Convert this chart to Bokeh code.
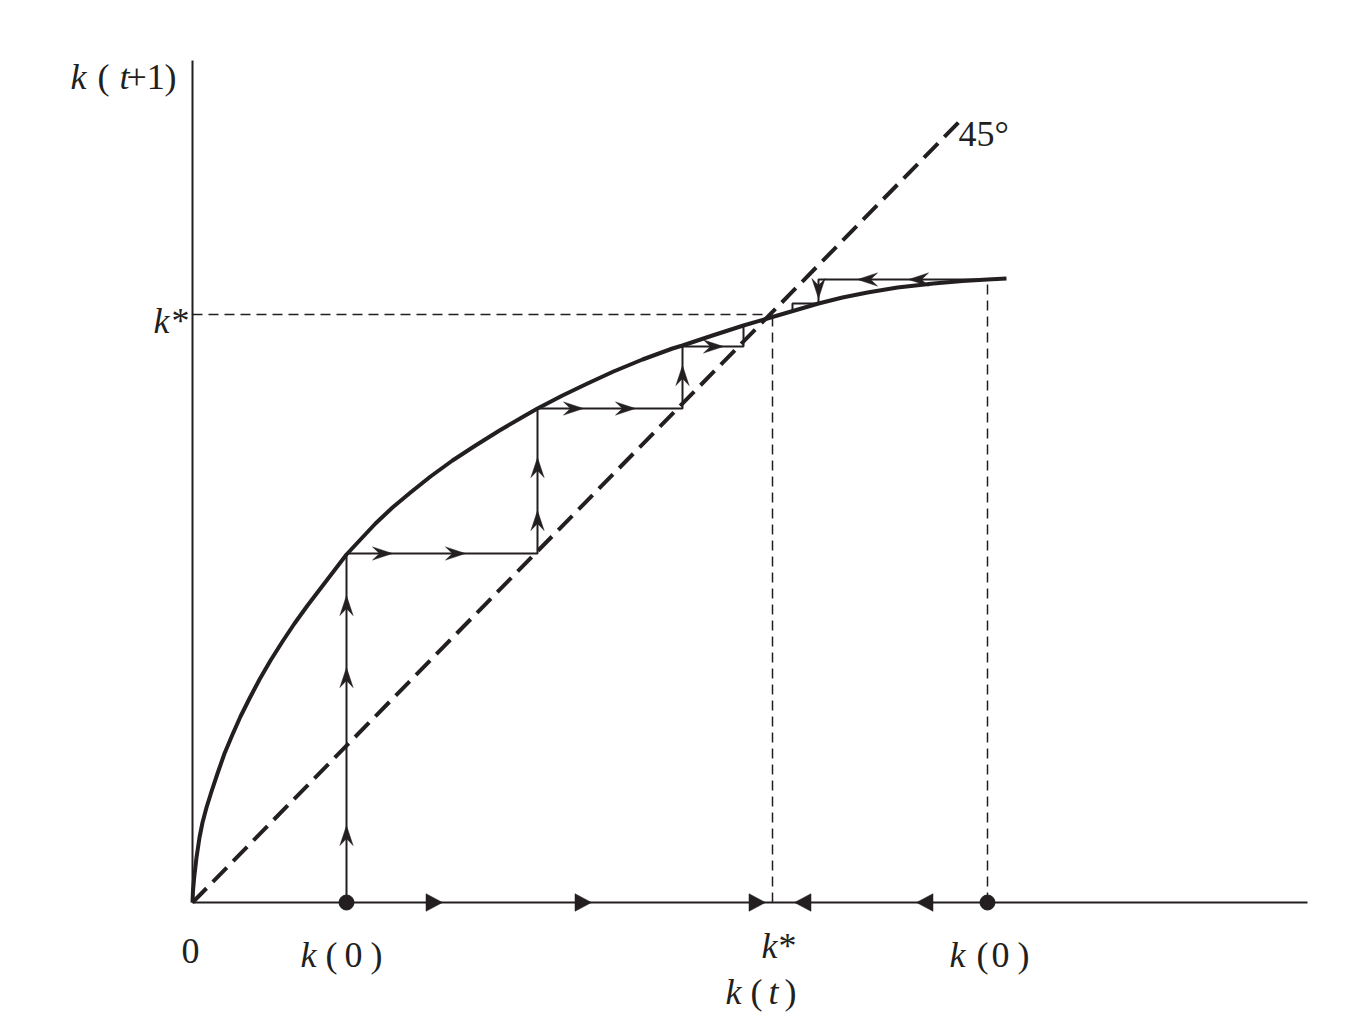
from bokeh.plotting import figure
from bokeh.models import Range1d
from bokeh.embed import file_html
from bokeh.resources import INLINE
from bokeh.core.properties import value

# ---- data (units: k, k(t+1)) ----
curve_k = [0.0, 0.005, 0.017, 0.04, 0.07, 0.10, 0.14, 0.19, 0.25, 0.32, 0.40, 0.48, 0.57,
           0.67, 0.78, 0.90, 1.02, 1.15, 1.28, 1.41, 1.54, 1.68, 1.83, 2.00, 2.18, 2.38,
           2.60, 2.83, 3.07, 3.31, 3.45, 3.70, 3.95, 4.21, 4.50, 4.80, 4.90, 5.20, 5.51,
           5.85, 6.26, 6.50, 6.75, 7.05, 7.41, 7.70, 7.95, 8.14]
curve_y = [0.0, 0.12, 0.25, 0.45, 0.65, 0.80, 0.95, 1.11, 1.29, 1.49, 1.68, 1.86, 2.04,
           2.23, 2.42, 2.61, 2.79, 2.97, 3.14, 3.31, 3.48, 3.63, 3.79, 3.95, 4.10, 4.26,
           4.42, 4.57, 4.72, 4.86, 4.94, 5.07, 5.19, 5.31, 5.43, 5.54, 5.57, 5.67, 5.77,
           5.87, 5.99, 6.05, 6.10, 6.15, 6.19, 6.215, 6.23, 6.24]

line45_k = [0.0, 7.68]
line45_y = [0.0, 7.82]

k_star = 5.80
k_star_y = 5.88
k0_low = 1.54
k0_high = 7.95
x_axis_end = 11.15
y_axis_end = 8.42

stair_low_x = [1.54, 1.54, 3.45, 3.45, 4.90, 4.90, 5.51, 5.51]
stair_low_y = [0.0, 3.49, 3.49, 4.94, 4.94, 5.56, 5.56, 5.77]
stair_high_x = [7.95, 6.26, 6.26, 6.00, 6.00]
stair_high_y = [6.23, 6.23, 5.99, 5.99, 5.91]

arrow_x = [1.54, 1.54, 1.54, 2.00, 2.73, 3.45, 3.45, 3.91, 4.43, 4.90, 5.31, 6.65, 7.16, 6.26]
arrow_y = [0.77, 2.35, 3.07, 3.49, 3.49, 3.92, 4.45, 4.94, 4.94, 5.37, 5.56, 6.23, 6.23, 6.04]
arrow_dir = ["up", "up", "up", "right", "right", "up", "up", "right", "right", "up",
             "right", "left", "left", "down"]

axis_tri_x = [2.50, 3.99, 5.73, 6.02, 7.24]
axis_tri_dir = ["right", "right", "right", "left", "left"]

dots_x = [k0_low, k0_high]

INK = "#231f20"
FONT = "Liberation Serif"
FS = "36px"

def ux(px):
    return (px - 192) / 100.0

def uy(py):
    return (902 - py) / 100.0

DIRS = {"up": (0, 1), "down": (0, -1), "left": (-1, 0), "right": (1, 0)}

def vee(tx, ty, d, L=0.20, w=0.066, notch=0.13):
    dx, dy = DIRS[d]
    nx, ny = -dy, dx
    bx, by = tx - L * dx, ty - L * dy
    mx, my = tx - notch * dx, ty - notch * dy
    return ([tx, bx + w * nx, mx, bx - w * nx], [ty, by + w * ny, my, by - w * ny])

def tri(tx, ty, d, L=0.165, h=0.088):
    dx, dy = DIRS[d]
    nx, ny = -dy, dx
    bx, by = tx - L * dx, ty - L * dy
    return ([tx, bx + h * nx, bx - h * nx], [ty, by + h * ny, by - h * ny])

W, H = 1360, 1012
p = figure(width=W, height=H, output_backend="svg", toolbar_location=None,
           x_axis_location=None, y_axis_location=None, min_border=0,
           x_range=Range1d(ux(0), ux(0) + W / 100.0),
           y_range=Range1d(uy(0) - H / 100.0, uy(0)))
p.grid.visible = False
p.outline_line_color = None
p.background_fill_color = "white"
p.border_fill_color = "white"

# axes
p.line([0, x_axis_end], [0, 0], line_color=INK, line_width=2)
p.line([0, 0], [0, y_axis_end], line_color=INK, line_width=2)

# guide dashed lines
p.line([0, k_star], [k_star_y, k_star_y], line_color=INK, line_width=1.5, line_dash="10 6")
p.line([k_star, k_star], [0, k_star_y], line_color=INK, line_width=1.5, line_dash="10 6")
p.line([k0_high, k0_high], [0, stair_high_y[0]], line_color=INK, line_width=1.5, line_dash="10 6")

# 45 degree line
p.line(line45_k, line45_y, line_color=INK, line_width=4, line_dash="20 9")

# staircases
p.line(stair_low_x, stair_low_y, line_color=INK, line_width=2)
p.line(stair_high_x, stair_high_y, line_color=INK, line_width=2)

# curve
p.line(curve_k, curve_y, line_color=INK, line_width=4, line_join="round")

# arrowheads on staircases
xs, ys = [], []
for ax_, ay_, d in zip(arrow_x, arrow_y, arrow_dir):
    a, b = vee(ax_, ay_, d)
    xs.append(a); ys.append(b)
p.patches(xs, ys, fill_color=INK, line_color=INK, line_width=0.5)

# triangles on the axis
xs, ys = [], []
for tx, d in zip(axis_tri_x, axis_tri_dir):
    a, b = tri(tx, 0.0, d)
    xs.append(a); ys.append(b)
p.patches(xs, ys, fill_color=INK, line_color=INK, line_width=0.5)

# dots
p.scatter(dots_x, [0, 0], size=15, marker="circle", fill_color=INK, line_color=INK)

# labels (pieces: text, left px, baseline px, style)
pieces = [
    ("k", 70, 76, "italic"), ("(", 97, 76, "normal"), ("t", 119, 76, "italic"),
    ("+1", 126, 76, "normal"), (")", 164, 76, "normal"),
    ("0", 181, 950, "normal"),
    ("k", 300, 954, "italic"), ("(", 325, 954, "normal"), ("0", 344, 954, "normal"), (")", 370, 954, "normal"),
    ("k", 761, 945, "italic"), ("*", 778, 945, "normal"),
    ("k", 725, 991, "italic"), ("(", 750, 991, "normal"), ("t", 768, 991, "italic"), (")", 784, 991, "normal"),
    ("k", 949, 954, "italic"), ("(", 976, 954, "normal"), ("0", 991, 954, "normal"), (")", 1017, 954, "normal"),
    ("k", 153, 320, "italic"), ("*", 171, 320, "normal"),
    ("45\u00b0", 958, 133, "normal"),
]
for style in ("italic", "normal"):
    sel = [pc for pc in pieces if pc[3] == style]
    p.text(x=[ux(pc[1]) for pc in sel], y=[uy(pc[2]) for pc in sel], text=[pc[0] for pc in sel],
           text_font=value(FONT), text_font_size=FS, text_font_style=style,
           text_color=INK, text_align="left", text_baseline="alphabetic")

open("out.html", "w").write(file_html(p, INLINE))
